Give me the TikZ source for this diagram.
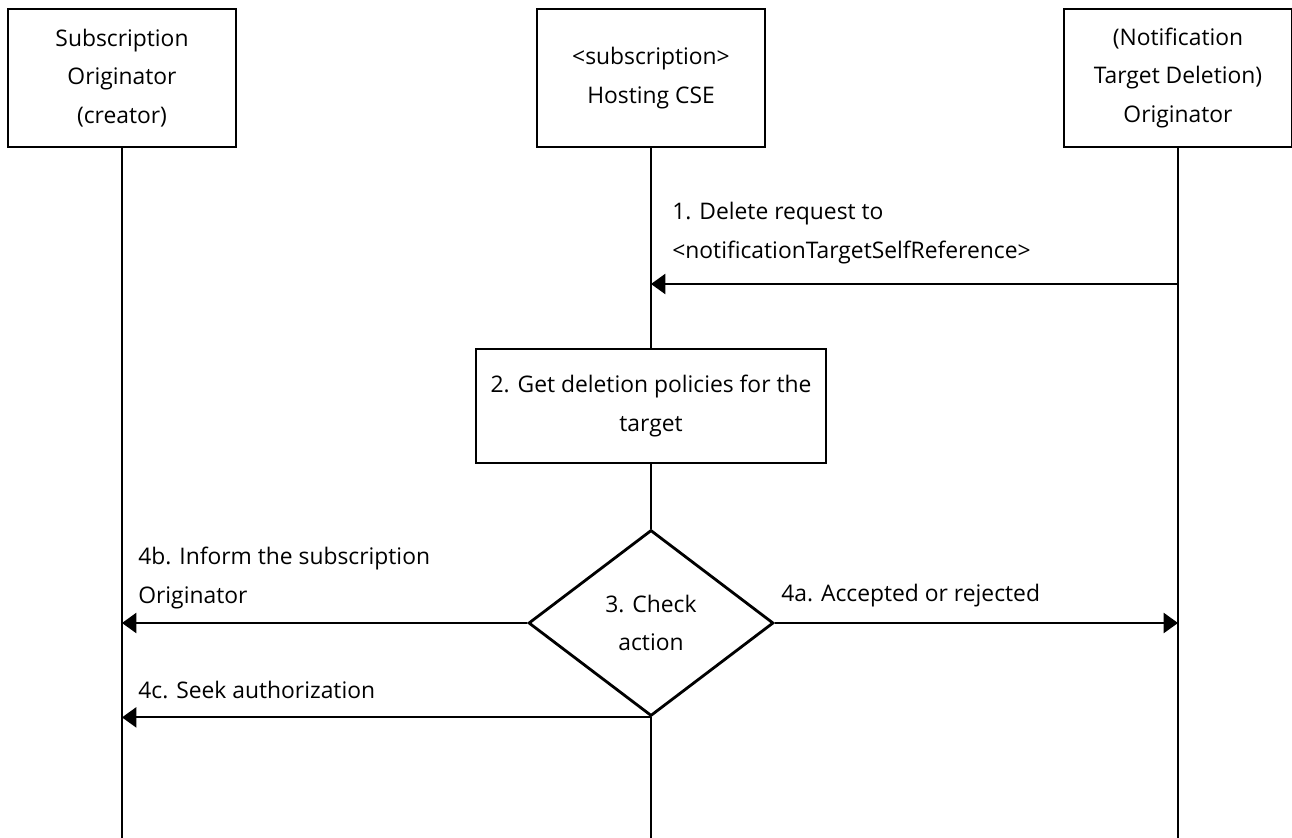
\documentclass[tikz,border=0pt]{standalone}
\usepackage{fontspec}
\setmainfont{Open Sans}
\usetikzlibrary{shapes.geometric,arrows.meta}
\tikzset{
 actor/.style={draw,line width=1.6pt,minimum width=4.56cm,minimum height=2.76cm,align=center},
 life/.style={line width=.6pt},
 msg/.style={line width=1.1pt,-{Triangle[length=8.2pt,width=11.5pt]}},
 lbl/.style={anchor=west,align=left,inner sep=0pt},
}
\begin{document}
\begin{tikzpicture}[font=\fontsize{13}{22}\selectfont,x=.02cm,y=-.02cm]
\useasboundingbox (0,0) rectangle (1292,838);
\node[actor] (subor) at (122,78) {Subscription\\Originator\\(creator)};
\node[actor] (host) at (651,78) {<subscription>\\Hosting CSE};
\node[actor] (target) at (1178,78) {(Notification\\Target Deletion)\\Originator};
\foreach \n/\x in {subor/122,host/651,target/1178}{
 \coordinate (\n-end) at (\x,838);
}
\node[draw,line width=1.6pt,minimum width=7cm,minimum height=2.28cm,align=center] (policy) at (651,406) {2. Get deletion policies for the\\target};
\node[draw,diamond,line width=1.6pt,minimum width=4.9cm,minimum height=3.72cm,inner sep=0pt,align=center] (check) at (651,623) {3. Check\\action};
\draw[life] (subor) -- (subor-end);
\draw[life] (host) -- (policy) (policy) -- (check) (check) -- (host-end);
\draw[life] (target) -- (target-end);
% messages
\coordinate (t1) at (1178,284);
\coordinate (h1) at (651,284);
\draw[msg] (t1) -- (h1);
\draw[msg] (check.east) -- (check.east -| target-end);
\draw[msg] (check.west) -- (check.west -| subor-end);
\draw[msg] (check.south) -- (check.south -| subor-end);
\node[lbl] (l1) at (672,233) {1. Delete request to\\<notificationTargetSelfReference>};
\node[lbl] (l4a) at (781,596) {4a. Accepted or rejected};
\node[lbl] (l4b) at (138,578) {4b. Inform the subscription\\Originator};
\node[lbl] (l4c) at (138,690) {4c. Seek authorization};
\end{tikzpicture}
\end{document}
